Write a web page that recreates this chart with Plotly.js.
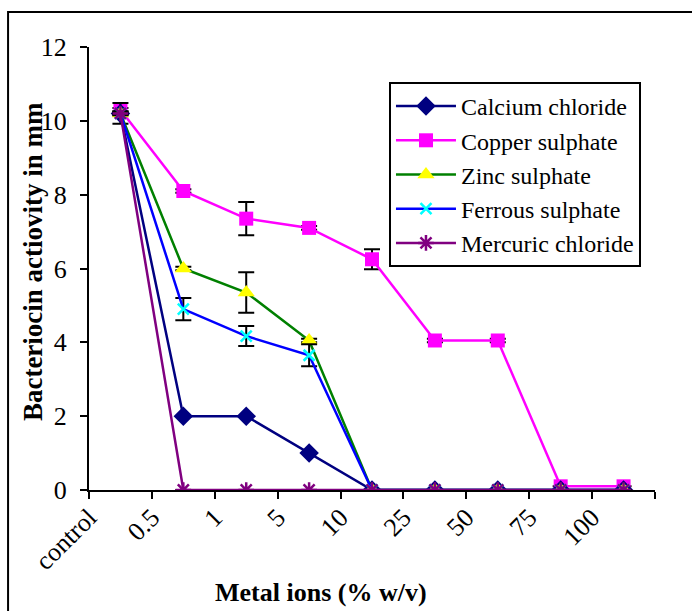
<!DOCTYPE html>
<html>
<head>
<meta charset="utf-8">
<script src="https://cdn.plot.ly/plotly-3.0.1.min.js"></script>
<style>
html,body{margin:0;padding:0;background:#fff;}
#chart{width:692px;height:611px;}
#chart svg text{fill:#000 !important;}
</style>
</head>
<body>
<div id="chart"></div>
<script>
var categories = ["control", "0.5", "1", "5", "10", "25", "50", "75", "100"];
var seriesNames = ["Calcium chloride", "Copper sulphate", "Zinc sulphate", "Ferrous sulphate", "Mercuric chloride"];
var calcium  = [10.2, 2.0, 2.0, 1.0, 0, 0, 0, 0, 0];
var copper   = [10.3, 8.1, 7.35, 7.1, 6.25, 4.05, 4.05, 0.1, 0.1];
var zinc     = [10.2, 6.0, 5.35, 4.05, 0, 0, 0, 0, 0];
var ferrous  = [10.2, 4.9, 4.17, 3.65, 0, 0, 0, 0, 0];
var mercuric = [10.2, 0, 0, 0, 0, 0, 0, 0, 0];
var calciumErr  = [0.28, 0, 0, 0, 0, 0, 0, 0, 0];
var copperErr   = [0.05, 0.05, 0.45, 0.05, 0.27, 0.05, 0.05, 0, 0];
var zincErr     = [0.05, 0.05, 0.55, 0.05, 0, 0, 0, 0, 0];
var ferrousErr  = [0.05, 0.3, 0.27, 0.3, 0, 0, 0, 0, 0];
var mercuricErr = [0, 0, 0, 0, 0, 0, 0, 0, 0];

var xIdx = categories.map(function (c, i) { return i; });
var labelPos = xIdx.map(function (i) { return i - 0.5; });
var boundaries = xIdx.concat([categories.length]).map(function (i) { return i - 0.5; });

var FONT = "Times New Roman";

function mk(name, y, err, lineColor, marker) {
  return {
    type: "scatter", mode: "lines+markers", name: name,
    x: xIdx, y: y,
    line: {color: lineColor, width: 2.5},
    marker: marker,
    error_y: {type: "data", array: err, visible: true, color: "#000", thickness: 2, width: 8}
  };
}

var traces = [
  mk(seriesNames[1], copper, copperErr, "#FF00FF", {symbol: "square", size: 14, color: "#FF00FF"}),
  mk(seriesNames[0], calcium, calciumErr, "#000080", {symbol: "diamond", size: 15, color: "#000080"}),
  mk(seriesNames[2], zinc, zincErr, "#008000", {symbol: "triangle-up", size: 15, color: "#FFFF00"}),
  mk(seriesNames[3], ferrous, ferrousErr, "#0000FF", {symbol: "x-thin-open", size: 11, color: "#00FFFF", line: {color: "#00FFFF", width: 2.5}}),
  mk(seriesNames[4], mercuric, mercuricErr, "#800080", {symbol: "asterisk-open", size: 13, color: "#800080", line: {color: "#800080", width: 2.5}})
];
traces[0].legendrank = 2; traces[1].legendrank = 1; traces[2].legendrank = 3; traces[3].legendrank = 4; traces[4].legendrank = 5;

var layout = {
  width: 692, height: 611,
  margin: {l: 89, r: 37, t: 47, b: 121},
  paper_bgcolor: "#fff", plot_bgcolor: "#fff",
  font: {family: FONT, color: "#000"},
  showlegend: true,
  legend: {
    x: 0.530, y: 0.921, xanchor: "left", yanchor: "top",
    bgcolor: "#fff", bordercolor: "#000", borderwidth: 2,
    font: {family: FONT, size: 24, color: "#000"},
    itemwidth: 60,
    traceorder: "normal", tracegroupgap: 0
  },
  xaxis: {
    range: [-0.5, categories.length - 0.5],
    tickmode: "array", tickvals: labelPos, ticktext: categories,
    tickangle: -45, ticks: "", ticklen: 0,
    tickfont: {family: FONT, size: 26, color: "#000"},
    showline: true, linecolor: "#000", linewidth: 2,
    showgrid: false, zeroline: false, fixedrange: true,
    minor: {tickmode: "array", tickvals: boundaries, ticks: "outside", ticklen: 7, tickwidth: 2, tickcolor: "#000", showgrid: false}
  },
  yaxis: {
    range: [0, 12], tickmode: "array", tickvals: [0, 2, 4, 6, 8, 10, 12],
    ticks: "outside", ticklen: 7, tickwidth: 2, tickcolor: "#000",
    ticklabelstandoff: 8,
    tickfont: {family: FONT, size: 26, color: "#000"},
    showline: true, linecolor: "#000", linewidth: 2,
    showgrid: false, zeroline: false, fixedrange: true
  },
  annotations: [
    {text: "<b>Metal ions (% w/v)</b>", xref: "paper", yref: "paper", x: 0.41, y: -0.2325,
     xanchor: "center", yanchor: "middle", showarrow: false, font: {family: FONT, size: 26, color: "#000"}},
    {text: "<b>Bacteriocin actiovity in mm</b>", xref: "paper", yref: "paper", x: -0.0985, y: 0.515,
     xanchor: "center", yanchor: "middle", textangle: -90, showarrow: false, font: {family: FONT, size: 27, color: "#000"}}
  ],
  shapes: [
    {type: "rect", xref: "paper", yref: "paper", x0: -0.143, x1: 1.1, y0: 1.079, y1: -0.35,
     line: {color: "#000", width: 2}, fillcolor: "rgba(0,0,0,0)", layer: "below"}
  ]
};

Plotly.newPlot("chart", traces, layout, {displayModeBar: false});
</script>
</body>
</html>
